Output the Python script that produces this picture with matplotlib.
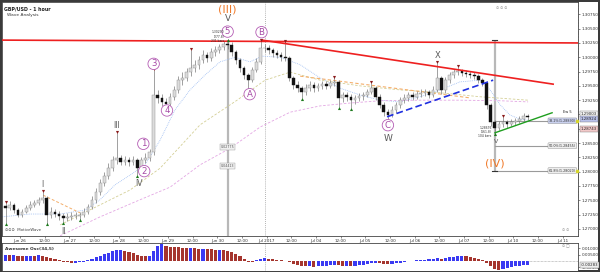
import matplotlib

matplotlib.use("Agg")
import matplotlib.pyplot as plt
import numpy as np

first_open = 1.2740
closes = [1.2737, 1.2742, 1.2733, 1.2724, 1.2730, 1.2737, 1.2742, 1.2745, 1.2751, 1.2754,
          1.2724, 1.2730, 1.2726, 1.2723, 1.2719, 1.2721, 1.2723, 1.2723, 1.2724, 1.2730,
          1.2738, 1.2751, 1.2765, 1.2780, 1.2793, 1.2807, 1.2821, 1.2824, 1.2817, 1.2821,
          1.2817, 1.2821, 1.2807, 1.2821, 1.2824, 1.2834, 1.2934, 1.2929, 1.2922, 1.2918,
          1.2931, 1.2943, 1.2960, 1.2964, 1.2974, 1.2981, 1.2987, 1.2995, 1.3004, 1.2999,
          1.3009, 1.3013, 1.3018, 1.3023, 1.3022, 1.3009, 1.2995, 1.2981, 1.2969, 1.2960,
          1.2978, 1.2992, 1.3016, 1.3016, 1.3013, 1.3007, 1.3004, 1.3000, 1.2999, 1.2964,
          1.2952, 1.2946, 1.2939, 1.2946, 1.2952, 1.2946, 1.2950, 1.2953, 1.2950, 1.2955,
          1.2957, 1.2929, 1.2934, 1.2931, 1.2925, 1.2929, 1.2932, 1.2934, 1.2939, 1.2946,
          1.2931, 1.2917, 1.2904, 1.2899, 1.2908, 1.2917, 1.2925, 1.2929, 1.2934, 1.2931,
          1.2936, 1.2938, 1.2939, 1.2934, 1.2943, 1.2964, 1.2943, 1.2960, 1.2969, 1.2974,
          1.2976, 1.2972, 1.2971, 1.2969, 1.2967, 1.2960, 1.2955, 1.2917, 1.2887, 1.2876,
          1.2883, 1.2887, 1.2883, 1.2887, 1.2889, 1.2892, 1.2897, 1.2896]
highs = [1.2746, 1.2748, 1.2745, 1.2736, 1.2735, 1.2742, 1.2748, 1.2750, 1.2756, 1.2765,
         1.2757, 1.2738, 1.2735, 1.2731, 1.2727, 1.2728, 1.2729, 1.2730, 1.2729, 1.2736,
         1.2744, 1.2757, 1.2772, 1.2788, 1.2800, 1.2815, 1.2828, 1.2868, 1.2830, 1.2827,
         1.2826, 1.2828, 1.2824, 1.2826, 1.2832, 1.2840, 1.2978, 1.2942, 1.2935, 1.2928,
         1.2937, 1.2950, 1.2968, 1.2975, 1.2982, 1.3013, 1.2995, 1.3002, 1.3012, 1.3010,
         1.3016, 1.3020, 1.3024, 1.3028, 1.3030, 1.3026, 1.3012, 1.2998, 1.2985, 1.2972,
         1.2983, 1.2998, 1.3029, 1.3024, 1.3021, 1.3017, 1.3012, 1.3009, 1.3028, 1.3003,
         1.2968, 1.2958, 1.2950, 1.2953, 1.2958, 1.2956, 1.2955, 1.2959, 1.2958, 1.2960,
         1.2965, 1.2960, 1.2940, 1.2939, 1.2935, 1.2934, 1.2937, 1.2940, 1.2945, 1.2955,
         1.2950, 1.2935, 1.2921, 1.2910, 1.2914, 1.2922, 1.2931, 1.2935, 1.2940, 1.2939,
         1.2941, 1.2944, 1.2945, 1.2943, 1.2949, 1.2990, 1.2968, 1.2966, 1.2975, 1.2979,
         1.2983, 1.2980, 1.2977, 1.2976, 1.2974, 1.2970, 1.2964, 1.2958, 1.2920, 1.2890,
         1.2889, 1.2896, 1.2891, 1.2892, 1.2894, 1.2897, 1.2902, 1.2901]
lows = [1.2710, 1.2733, 1.2727, 1.2720, 1.2720, 1.2727, 1.2733, 1.2738, 1.2741, 1.2746,
        1.2709, 1.2719, 1.2720, 1.2716, 1.2712, 1.2714, 1.2716, 1.2717, 1.2716, 1.2720,
        1.2726, 1.2734, 1.2746, 1.2760, 1.2775, 1.2788, 1.2802, 1.2814, 1.2811, 1.2812,
        1.2810, 1.2812, 1.2794, 1.2802, 1.2815, 1.2818, 1.2830, 1.2920, 1.2915, 1.2914,
        1.2914, 1.2926, 1.2938, 1.2952, 1.2958, 1.2968, 1.2974, 1.2980, 1.2990, 1.2992,
        1.2994, 1.3003, 1.3008, 1.3012, 1.3015, 1.3002, 1.2988, 1.2975, 1.2962, 1.2946,
        1.2956, 1.2974, 1.2988, 1.3009, 1.3006, 1.3001, 1.2998, 1.2994, 1.2993, 1.2958,
        1.2945, 1.2939, 1.2928, 1.2934, 1.2941, 1.2940, 1.2941, 1.2944, 1.2944, 1.2946,
        1.2950, 1.2913, 1.2922, 1.2924, 1.2911, 1.2919, 1.2924, 1.2926, 1.2930, 1.2935,
        1.2926, 1.2911, 1.2898, 1.2890, 1.2895, 1.2902, 1.2912, 1.2920, 1.2924, 1.2925,
        1.2927, 1.2930, 1.2932, 1.2928, 1.2930, 1.2940, 1.2936, 1.2938, 1.2955, 1.2964,
        1.2969, 1.2967, 1.2965, 1.2964, 1.2962, 1.2955, 1.2949, 1.2910, 1.2880, 1.2867,
        1.2872, 1.2878, 1.2877, 1.2879, 1.2882, 1.2885, 1.2888, 1.2890]

# Awesome Oscillator (34,5), one value per bar
ao_values = [0.0045, 0.0043, 0.0044, 0.0040, 0.0038, 0.0040, 0.0042, 0.0041, 0.0043, 0.0040,
             0.0030, 0.0022, 0.0015, 0.0005, -0.0005, -0.0010, -0.0013, -0.0012, -0.0010, -0.0005,
             0.0005, 0.0015, 0.0028, 0.0042, 0.0055, 0.0066, 0.0075, 0.0082, 0.0085, 0.0080,
             0.0070, 0.0060, 0.0048, 0.0040, 0.0035, 0.0038, 0.0080, 0.0115, 0.0130, 0.0120,
             0.0112, 0.0108, 0.0106, 0.0104, 0.0100, 0.0102, 0.0098, 0.0095, 0.0097, 0.0092,
             0.0090, 0.0086, 0.0088, 0.0082, 0.0080, 0.0072, 0.0055, 0.0035, 0.0015, -0.0005,
             -0.0010, 0.0005, 0.0018, 0.0020, 0.0015, 0.0012, 0.0008, 0.0004, 0.0000, -0.0010,
             -0.0020, -0.0030, -0.0038, -0.0042, -0.0040, -0.0044, -0.0042, -0.0040, -0.0038, -0.0035,
             -0.0030, -0.0034, -0.0038, -0.0036, -0.0040, -0.0038, -0.0035, -0.0030, -0.0025, -0.0018,
             -0.0015, -0.0018, -0.0022, -0.0025, -0.0022, -0.0018, -0.0012, -0.0008, -0.0003, 0.0002,
             0.0005, 0.0008, 0.0010, 0.0012, 0.0015, 0.0020, 0.0018, 0.0022, 0.0028, 0.0033,
             0.0038, 0.0040, 0.0037, 0.0032, 0.0025, 0.0015, 0.0005, -0.0015, -0.0040, -0.0060,
             -0.0068, -0.0065, -0.0058, -0.0050, -0.0042, -0.0036, -0.0031, -0.0028]

# x axis in trading hours from Jun 26 00:00
tick_hours = list(range(0, 265, 12))
tick_labels = ["Jun 26", "12:00", "Jun 27", "12:00", "Jun 28", "12:00", "Jun 29", "12:00",
               "Jun 30", "12:00", "Jul 2017", "12:00", "Jul 04", "12:00", "Jul 05", "12:00",
               "Jul 06", "12:00", "Jul 07", "12:00", "Jul 10", "12:00", "Jul 11"]
month_break_hour = 119

# moving averages (hour, price)
ma_fast_h = [-8.8, 4.9, 19.5, 31.6, 38.9, 46.2, 53.5, 60.8, 68.1, 75.4, 82.7, 90.0, 97.3, 104.6,
             111.9, 117.8, 126.5, 136.3, 146.0, 155.7, 165.5, 175.2, 184.9, 194.6, 204.4, 214.1,
             223.8, 228.7, 233.6, 238.4, 243.3, 247.2]
ma_fast_p = [1.2721, 1.2726, 1.2726, 1.2733, 1.2751, 1.2777, 1.2794, 1.2812, 1.2855, 1.2908,
             1.2943, 1.2969, 1.2992, 1.3000, 1.2992, 1.3002, 1.3000, 1.2987, 1.2964, 1.2946,
             1.2934, 1.2925, 1.2922, 1.2931, 1.2943, 1.2957, 1.2960, 1.2943, 1.2917, 1.2899,
             1.2892, 1.2890]
ma_mid_h = [19.5, 38.9, 53.5, 68.1, 87.6, 105.6, 119.2, 131.4, 146.0, 165.5, 184.9, 204.4, 223.8, 247.2]
ma_mid_p = [1.2707, 1.2742, 1.2768, 1.2806, 1.2882, 1.2925, 1.2960, 1.2974, 1.2960, 1.2950,
            1.2943, 1.2938, 1.2931, 1.2925]
ma_slow_h = [19.5, 38.9, 58.4, 73.0, 87.6, 102.2, 116.8, 131.4, 146.0, 160.6, 175.2, 194.6,
             214.1, 233.6, 247.2]
ma_slow_p = [1.2688, 1.2721, 1.2751, 1.2773, 1.2812, 1.2841, 1.2878, 1.2904, 1.2915, 1.2920,
             1.2924, 1.2925, 1.2925, 1.2924, 1.2922]

# trend lines (two end points each)
res_flat_h, res_flat_p = [-9, 272], [1.3030, 1.3025]
res_down_h, res_down_p = [117.8, 259.4], [1.3030, 1.2953]
sup_blue_h, sup_blue_p = [178.6, 230.2], [1.2896, 1.2960]
sup_green_h, sup_green_p = [231.1, 258.9], [1.2868, 1.2903]
orange_h, orange_p = [136.3, 219.0], [1.2967, 1.2929]
peach_h, peach_p = [11.2, 29.2], [1.2759, 1.2728]

# fibonacci retracement of wave (III)
fib_names = ["38.2%(1.28890)", "50.0%(1.28455)", "61.8%(1.28020)"]
fib_prices = [1.28890, 1.28455, 1.28020]
fib_face = ["#c9d0ee", "#eeeeee", "#eeeeee"]

# swing markers (bar indices)
swing_high_bars = [0, 9, 27, 36, 45, 62, 68, 80, 89, 105, 110, 121]
swing_low_bars = [0, 10, 14, 18, 32, 59, 72, 81, 84, 93, 119]
peak_bar, low_bar = 54, 119

# wave labels: text, bar, anchor, dy px, dx px
circle_labels = [("1", 33, "high", 13, 2), ("2", 32, "low", 4, 7), ("3", 36, "high", 6, 0),
                 ("4", 39, "low", -4, 1), ("5", 54, "high", 8.5, 0), ("A", 59, "low", -6, 1.5),
                 ("B", 62, "high", 8.5, 1), ("C", 93, "low", -5, 0)]
roman_labels = [("I", 9, "high", 7, 0, 5.5), ("II", 14, "low", -9, 0, 5.5),
                ("III", 27, "high", 7, 0, 5.5), ("IV", 32, "low", -8, 2, 5.5),
                ("V", 54, "high", 22, 0, 6.5), ("W", 93, "low", -18, 0, 6.5),
                ("X", 105, "high", 7, 0, 6), ("V", 119, "low", -8, 1, 4.5)]
orange_labels = [("(III)", 54, "high", 31, 0), ("(IV)", 119, "low", -30, 0)]

# price tag boxes on the right axis
tag_texts = ["1.29003", "1.28924", "1.28743"]
tag_prices = [1.29003, 1.28924, 1.28743]
tag_face = ["#f4f4f4", "#b9c1ea", "#f2c9c9"]


def main():
    n = len(closes)
    bar_hours = -7 + 2 * np.arange(n)
    opens = [first_open] + closes[:-1]
    px = 0.72  # pixels -> points at 100 dpi

    fig = plt.figure(figsize=(6.0, 2.72), dpi=100)
    fig.patch.set_facecolor("white")
    fig.patch.set_edgecolor("#3a3a3a")
    fig.patch.set_linewidth(1.5)

    ax = fig.add_axes([2 / 600, 1 - 236 / 272, 576 / 600, 234 / 272])
    ax2 = fig.add_axes([2 / 600, 1 - 271 / 272, 576 / 600, 28 / 272])
    xmin, xmax = -8.8, 271.5

    # candles
    ax.vlines(bar_hours, lows, highs, color="#7a7a7a", lw=0.5, zorder=3)
    up = [c >= o for o, c in zip(opens, closes)]
    bottoms = [min(o, c) for o, c in zip(opens, closes)]
    heights = [max(abs(c - o), 0.00008) for o, c in zip(opens, closes)]
    ax.bar(bar_hours, heights, bottom=bottoms, width=1.3,
           color=["#dcdcdc" if u else "#111111" for u in up],
           edgecolor=["#8a8a8a" if u else "#111111" for u in up], lw=0.3, zorder=4)

    # moving averages
    ax.plot(ma_fast_h, ma_fast_p, color="#9dbdf2", lw=0.6, ls=(0, (1, 1.2)), zorder=2)
    ax.plot(ma_mid_h, ma_mid_p, color="#d4cf96", lw=0.6, ls=(0, (3, 2)), zorder=2)
    ax.plot(ma_slow_h, ma_slow_p, color="#e3a6e3", lw=0.6, ls=(0, (3, 2)), zorder=2)

    # trend lines
    ax.plot(res_flat_h, res_flat_p, color="#ee2020", lw=1.2, zorder=5)
    ax.plot(res_down_h, res_down_p, color="#ee2020", lw=1.2, zorder=5)
    ax.plot(sup_blue_h, sup_blue_p, color="#1f2fe0", lw=1.2, ls=(0, (4, 2)), zorder=5)
    ax.plot(sup_green_h, sup_green_p, color="#1e9e1e", lw=1.0, zorder=5)
    ax.plot(orange_h, orange_p, color="#f4ae6a", lw=0.8, ls=(0, (3, 2)), zorder=2)
    ax.plot(peach_h, peach_p, color="#f4ae6a", lw=0.7, ls=(0, (3, 2)), zorder=2)

    # vertical guides
    ax.vlines(bar_hours[peak_bar], 1.2688, highs[peak_bar], color="#b8b8b8", lw=1.6, zorder=1)
    ax.axvline(month_break_hour, color="#9a9a9a", lw=0.6, ls=(0, (1, 1.5)), zorder=1)
    ax2.axvline(month_break_hour, color="#9a9a9a", lw=0.6, ls=(0, (1, 1.5)), zorder=1)
    xl = bar_hours[low_bar]
    ax.vlines(xl, fib_prices[-1], highs[peak_bar], color="#b8b8b8", lw=1.6, zorder=1)
    for yv in (fib_prices[-1], highs[peak_bar]):
        ax.plot([xl - 1.2, xl + 1.2], [yv, yv], color="#333333", lw=0.8, zorder=6)

    # fibonacci levels
    for name, p, fc in zip(fib_names, fib_prices, fib_face):
        ax.plot([xl, 258], [p, p], color="#9a9a9a", lw=0.8, zorder=2)
        ax.text(270.5, p, name, fontsize=2.4, ha="right", va="center", color="#333333", zorder=7,
                bbox=dict(boxstyle="round,pad=0.25", fc=fc, ec="#888888", lw=0.3))
    ax.plot([271.2], [fib_prices[-1]], marker="o", ms=1.6, color="#d6d62a", zorder=8, clip_on=False)
    ax.plot([271.2], [fib_prices[0]], marker="o", ms=1.6, color="#d6d62a", zorder=8, clip_on=False)
    ax.text(268.5, 1.29035, "Ew 5", fontsize=2.6, ha="right", va="center", color="#222222")

    # boxes on the peak line
    for txt, p in (("0.02775", 1.28430), ("0.04413", 1.28100)):
        ax.text(bar_hours[peak_bar], p, txt, fontsize=2.3, ha="center", va="center", color="#555555",
                zorder=7, bbox=dict(boxstyle="square,pad=0.3", fc="#efefef", ec="#999999", lw=0.3))

    # swing markers
    ax.scatter(bar_hours[swing_high_bars], [highs[i] + 0.00012 for i in swing_high_bars],
               marker="v", s=5, color="#8b1c1c", zorder=6, lw=0)
    ax.scatter(bar_hours[swing_low_bars], [lows[i] - 0.00012 for i in swing_low_bars],
               marker="^", s=5, color="#1e7a1e", zorder=6, lw=0)
    ax.scatter([bar_hours[peak_bar]], [highs[peak_bar] + 0.00010], marker="^", s=5,
               color="#1e7a1e", zorder=6, lw=0)

    def anchor(i, kind):
        return (bar_hours[i], highs[i] if kind == "high" else lows[i])

    for txt, i, kind, dy, dx in circle_labels:
        ax.annotate(txt, anchor(i, kind), xytext=(dx * px, dy * px), textcoords="offset points",
                    ha="center", va="center", fontsize=6.2, color="#a64aa6", zorder=9,
                    bbox=dict(boxstyle="circle,pad=0.14", fc="white", ec="#b45cb4", lw=0.6))
    for txt, i, kind, dy, dx, fs in roman_labels:
        ax.annotate(txt, anchor(i, kind), xytext=(dx * px, dy * px), textcoords="offset points",
                    ha="center", va="center", fontsize=fs, color="#5a5a5a", zorder=9)
    for txt, i, kind, dy, dx in orange_labels:
        ax.annotate(txt, anchor(i, kind), xytext=(dx * px, dy * px), textcoords="offset points",
                    ha="center", va="center", fontsize=8, color="#f07a2a", zorder=9)

    # projection notes
    ax.annotate("1.30290\n(277.8)\n231 bars", anchor(peak_bar, "high"), xytext=(-3 * px, 3.5 * px),
                textcoords="offset points", ha="right", va="center", fontsize=2.2,
                color="#333333", linespacing=1.1, zorder=9)
    ax.annotate("1.28676\n(161.8)\n104 bars", anchor(low_bar, "low"), xytext=(-3 * px, 1.5 * px),
                textcoords="offset points", ha="right", va="center", fontsize=2.2,
                color="#333333", linespacing=1.1, zorder=9)

    # axes styling (main)
    ax.set_xlim(xmin, xmax)
    ax.set_ylim(1.26876, 1.30966)
    ax.yaxis.tick_right()
    yt = np.arange(1.2700, 1.30760, 0.0025)
    ax.set_yticks(yt)
    ax.set_yticklabels([f"{v:.5f}" for v in yt])
    ax.set_yticks(np.arange(1.2690, 1.3096, 0.0005), minor=True)
    ax.set_xticks(tick_hours)
    ax.set_xticklabels(tick_labels)
    ax.tick_params(axis="both", labelsize=3, length=1.5, width=0.4, pad=1, colors="#333333")
    ax.tick_params(axis="y", which="minor", length=0.8, width=0.3, colors="#555555")
    for s in ax.spines.values():
        s.set_linewidth(0.6)
        s.set_color("#444444")
    for txt, p, fc in zip(tag_texts, tag_prices, tag_face):
        ax.annotate(txt, (1, p), xycoords=("axes fraction", "data"), xytext=(2, 0),
                    textcoords="offset points", ha="left", va="center", fontsize=2.8,
                    color="#222222", zorder=10, annotation_clip=False,
                    bbox=dict(boxstyle="square,pad=0.25", fc=fc, ec="#777777", lw=0.3))

    ax.text(0.004, 0.98, "GBP/USD - 1 hour", transform=ax.transAxes, fontsize=3.4,
            fontweight="bold", va="top", color="#222222")
    ax.text(0.009, 0.955, "Wave Analysis", transform=ax.transAxes, fontsize=3.2,
            va="top", color="#333333")
    ax.text(0.858, 0.985, "\u2299 \u2299 \u2299", transform=ax.transAxes, fontsize=2.6,
            va="top", color="#888888")
    ax.text(0.006, 0.015, "\u2299\u2299\u2299  MotiveWave", transform=ax.transAxes, fontsize=2.8,
            va="bottom", color="#444444")
    ax.text(0.985, 0.015, "\u2299 \u2299", transform=ax.transAxes, fontsize=2.6,
            ha="right", va="bottom", color="#888888")

    # Awesome oscillator panel
    ao_colors = ["#3a3af2"] + ["#3a3af2" if b >= a else "#a5352e"
                               for a, b in zip(ao_values[:-1], ao_values[1:])]
    ax2.bar(bar_hours, ao_values, width=1.5, color=ao_colors, lw=0)
    ax2.plot([bar_hours[-1], xmax], [0, 0], color="#999999", lw=0.5, ls=(0, (1, 1)))
    ax2.set_xlim(xmin, xmax)
    ax2.set_ylim(-0.0078, 0.0140)
    ax2.yaxis.tick_right()
    ax2.set_yticks([0.01, 0.005, -0.005])
    ax2.set_yticklabels(["0.01000", "0.00500", "-0.00500"])
    ax2.set_xticks([])
    ax2.tick_params(axis="y", labelsize=3, length=1.5, width=0.4, pad=1, colors="#333333")
    for s in ax2.spines.values():
        s.set_linewidth(0.6)
        s.set_color("#444444")
    ax2.annotate("-0.00283", (1, ao_values[-1]), xycoords=("axes fraction", "data"),
                 xytext=(2, 0), textcoords="offset points", ha="left", va="center",
                 fontsize=2.8, color="#222222", annotation_clip=False,
                 bbox=dict(boxstyle="square,pad=0.25", fc="#eeeeee", ec="#777777", lw=0.3))
    ax2.text(0.006, 0.86, "Awesome Osc(34,5)", transform=ax2.transAxes, fontsize=3.2,
             fontweight="bold", va="top", color="#333333")
    ax2.text(0.985, 0.95, "\u2299 \u25a1", transform=ax2.transAxes, fontsize=2.6,
             ha="right", va="top", color="#888888")

    fig.savefig("out.png", dpi=100)
    plt.close(fig)


if __name__ == "__main__":
    main()
